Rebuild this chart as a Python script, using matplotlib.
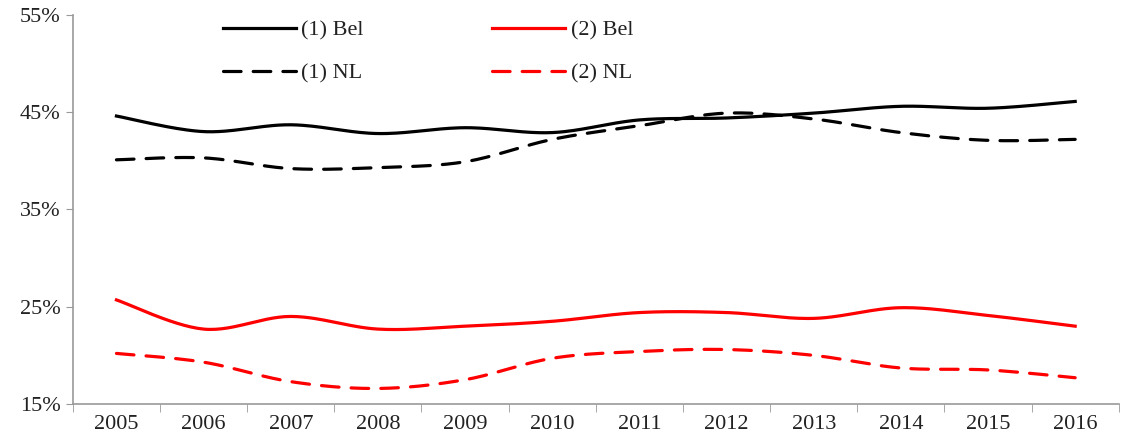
import numpy as np
import matplotlib
matplotlib.use("Agg")
import matplotlib.pyplot as plt
from matplotlib.ticker import FuncFormatter

years = ["2005", "2006", "2007", "2008", "2009", "2010",
         "2011", "2012", "2013", "2014", "2015", "2016"]
bel_1 = [44.6, 43.0, 43.7, 42.8, 43.4, 42.9, 44.2, 44.4, 44.9, 45.6, 45.4, 46.1]
nl_1 = [40.1, 40.3, 39.2, 39.3, 39.9, 42.2, 43.6, 44.9, 44.3, 42.9, 42.1, 42.2]
bel_2 = [25.7, 22.7, 24.0, 22.7, 23.0, 23.5, 24.4, 24.4, 23.8, 24.9, 24.1, 23.0]
nl_2 = [20.2, 19.3, 17.3, 16.6, 17.5, 19.7, 20.4, 20.6, 20.0, 18.7, 18.5, 17.7]
y_ticks = [15, 25, 35, 45, 55]


def smooth(xs, ys, n=30):
    # Catmull-Rom style curve like Excel "smoothed line"
    xs = np.asarray(xs, float)
    ys = np.asarray(ys, float)
    px = np.concatenate([[xs[0]], xs, [xs[-1]]])
    py = np.concatenate([[ys[0]], ys, [ys[-1]]])
    outx, outy = [], []
    t = np.linspace(0, 1, n)
    for i in range(1, len(px) - 2):
        x0, x1, x2, x3 = px[i - 1], px[i], px[i + 1], px[i + 2]
        y0, y1, y2, y3 = py[i - 1], py[i], py[i + 1], py[i + 2]
        c1x, c1y = x1 + (x2 - x0) / 6, y1 + (y2 - y0) / 6
        c2x, c2y = x2 - (x3 - x1) / 6, y2 - (y3 - y1) / 6
        bx = (1-t)**3*x1 + 3*(1-t)**2*t*c1x + 3*(1-t)*t**2*c2x + t**3*x2
        by = (1-t)**3*y1 + 3*(1-t)**2*t*c1y + 3*(1-t)*t**2*c2y + t**3*y2
        outx.extend(bx)
        outy.extend(by)
    return outx, outy


plt.rcParams['font.family'] = ['Liberation Serif', 'DejaVu Serif']

fig = plt.figure(figsize=(11.21, 4.37), dpi=100)
ax = fig.add_axes([0.065, 0.0755, 0.933, 0.8905])

x = np.arange(len(years))
lw = 2.3
dash = (0, (5.5, 3.8))

sx, sy = smooth(x, bel_1)
ax.plot(sx, sy, color='black', lw=lw, label='(1) Bel')
sx, sy = smooth(x, nl_1)
ax.plot(sx, sy, color='black', lw=lw, ls=dash, dash_capstyle='round', label='(1) NL')
sx, sy = smooth(x, bel_2)
ax.plot(sx, sy, color='#ff0000', lw=lw, label='(2) Bel')
sx, sy = smooth(x, nl_2)
ax.plot(sx, sy, color='#ff0000', lw=lw, ls=dash, dash_capstyle='round', label='(2) NL')

ax.set_xlim(-0.5, len(years) - 0.5)
ax.set_ylim(15, 55)
ax.set_yticks(y_ticks)
ax.yaxis.set_major_formatter(FuncFormatter(lambda v, p: "%d%%" % v))

ax.set_xticks(x)
ax.set_xticklabels(years)
ax.set_xticks(np.arange(-0.5, len(years), 1.0), minor=True)
ax.tick_params(axis='x', which='major', length=0, pad=8, labelsize=16, labelcolor='#222222')
ax.tick_params(axis='x', which='minor', length=6, color='#999999', direction='out')
ax.tick_params(axis='y', length=5, color='#999999', labelsize=16, pad=4, labelcolor='#222222')

for s in ['top', 'right']:
    ax.spines[s].set_visible(False)
for s in ['left', 'bottom']:
    ax.spines[s].set_color('#999999')
    ax.spines[s].set_linewidth(1.2)

ax.legend(loc='upper left', bbox_to_anchor=(0.124, 1.038), ncol=2, frameon=False,
          handlelength=3.3, labelspacing=1.0, columnspacing=5.75, handletextpad=0.25,
          fontsize=16, labelcolor='#222222')

fig.savefig("out.png", dpi=100)
